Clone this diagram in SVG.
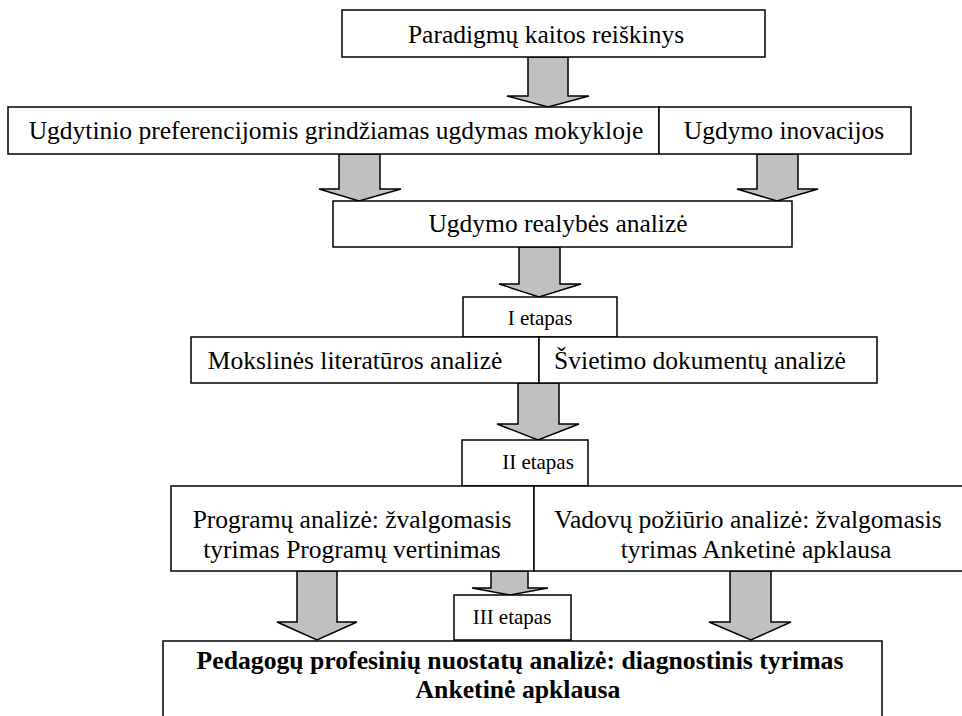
<svg xmlns="http://www.w3.org/2000/svg" width="962" height="716" viewBox="0 0 962 716">
<style>
.box{fill:#fff;stroke:#000;stroke-width:1.5}
.arr{fill:#c0c0c0;stroke:#000;stroke-width:1.5;stroke-linejoin:miter}
.t{font-family:"Liberation Serif","Times New Roman",serif;font-size:25.5px;fill:#000;text-anchor:middle}
.s{font-family:"Liberation Serif","Times New Roman",serif;font-size:21px;fill:#000;text-anchor:middle}
.b{font-family:"Liberation Serif","Times New Roman",serif;font-size:25.7px;font-weight:bold;fill:#000;text-anchor:middle}
</style>
<rect width="962" height="716" fill="#fff"/>
<g id="connectors">
<polygon class="arr" points="528,57 568,57 568,96 589,96 548,107 507,96 528,96"/>
<polygon class="arr" points="339,154 380,154 380,189 401,189 359,201 319,189 339,189"/>
<polygon class="arr" points="757,154 798,154 798,189 818,189 777,201 737,189 757,189"/>
<polygon class="arr" points="519,247 560,247 560,284 581,284 539,297 499,284 519,284"/>
<polygon class="arr" points="518,383 559,383 559,424 579,424 538,440 497,424 518,424"/>
<polygon class="arr" points="297,571 337,571 337,622 357,622 317,640 277,622 297,622"/>
<polygon class="arr" points="491,571 528,571 528,588 548,588 510,595 472,588 491,588"/>
<polygon class="arr" points="730,571 771,571 771,622 791,622 751,640 709,622 730,622"/>
</g>
<g id="n1"><rect class="box" x="342" y="10" width="423" height="47"/><text class="t" x="546" y="43">Paradigmų kaitos reiškinys</text></g>
<g id="n2"><rect class="box" x="8" y="107" width="651" height="47"/><text class="t" x="336" y="139">Ugdytinio preferencijomis grindžiamas ugdymas mokykloje</text></g>
<g id="n3"><rect class="box" x="659" y="107" width="252" height="47"/><text class="t" x="784" y="139">Ugdymo inovacijos</text></g>
<g id="n4"><rect class="box" x="333" y="201" width="459" height="46"/><text class="t" x="558" y="232">Ugdymo realybės analizė</text></g>
<g id="n5"><rect class="box" x="463" y="297" width="154" height="40"/><text class="s" x="540" y="325">I etapas</text></g>
<g id="n6"><rect class="box" x="191" y="337" width="348" height="46"/><text class="t" x="355" y="369">Mokslinės literatūros analizė</text></g>
<g id="n7"><rect class="box" x="539" y="337" width="338" height="46"/><text class="t" x="700" y="369">Švietimo dokumentų analizė</text></g>
<g id="n8"><rect class="box" x="462" y="440" width="126" height="46"/><text class="s" x="538" y="469">II etapas</text></g>
<g id="n9"><rect class="box" x="171" y="486" width="363" height="85"/><text class="t" x="352" y="528">Programų analizė: žvalgomasis</text><text class="t" x="352" y="558">tyrimas Programų vertinimas</text></g>
<g id="n10"><rect class="box" x="534" y="486" width="440" height="85"/><text class="t" x="748" y="528">Vadovų požiūrio analizė: žvalgomasis</text><text class="t" x="756" y="558">tyrimas Anketinė apklausa</text></g>
<g id="n11"><rect class="box" x="454" y="595" width="117" height="45"/><text class="s" x="512" y="624">III etapas</text></g>
<g id="n12"><rect class="box" x="163" y="641" width="719" height="90"/><text class="b" x="520" y="669">Pedagogų profesinių nuostatų analizė: diagnostinis tyrimas</text><text class="b" x="518" y="698">Anketinė apklausa</text></g>
</svg>
